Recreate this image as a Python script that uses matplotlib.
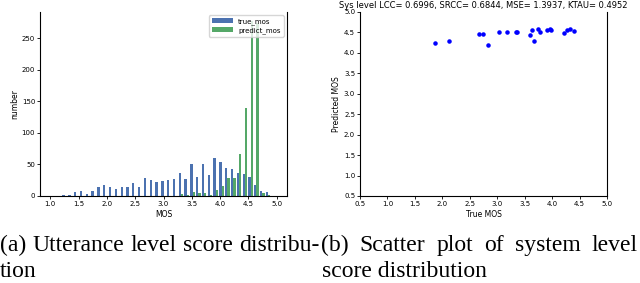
import numpy as np
import matplotlib
matplotlib.use("Agg")
import matplotlib.pyplot as plt

# histogram: 39 equal bins between 1.0 and 5.0, counts per bin
bin_lo, bin_hi, n_bins = 1.0, 5.0, 39
true_counts = [0, 0, 1, 1, 6, 8, 3, 8, 15, 18, 14, 11, 14, 14, 21, 15, 28, 25, 23, 24,
               25, 27, 36, 27, 50, 30, 50, 33, 60, 54, 45, 43, 36, 35, 30, 18, 8, 6, 0]
pred_counts = [0, 0, 0, 0, 0, 0, 0, 0, 0, 0, 0, 0, 0, 0, 0, 0, 0, 0, 0, 0,
               0, 0, 3, 1, 6, 4, 4, 1, 9, 16, 29, 28, 67, 140, 278, 275, 5, 1, 0]

# system level scatter
sys_true = [1.87, 2.13, 2.66, 2.74, 2.83, 3.03, 3.18, 3.34, 3.36, 3.60, 3.64,
            3.67, 3.75, 3.78, 3.90, 3.97, 3.98, 4.21, 4.27, 4.33, 4.39]
sys_pred = [4.23, 4.29, 4.455, 4.47, 4.20, 4.50, 4.50, 4.52, 4.50, 4.44, 4.56,
            4.30, 4.585, 4.50, 4.55, 4.585, 4.57, 4.48, 4.57, 4.585, 4.53]
sys_title = "Sys level LCC= 0.6996, SRCC= 0.6844, MSE= 1.3937, KTAU= 0.4952"

cap_a = ["(a) Utterance level score distribu-", "tion"]
cap_b = ["(b) Scatter plot of system level", "score distribution"]

fig = plt.figure(figsize=(6.4, 2.83), dpi=100)
fs = 5

edges = np.linspace(bin_lo, bin_hi, n_bins + 1)
centers = (edges[:-1] + edges[1:]) / 2

ax1 = fig.add_axes([40 / 640, 87 / 283, 247 / 640, 184 / 283])
ax1.hist([centers, centers], bins=edges, weights=[true_counts, pred_counts],
         color=["#4c72b0", "#55a868"], label=["true_mos", "predict_mos"])
ax1.set_xlim(0.82, 5.18)
ax1.set_ylim(0, 292)
ax1.set_xticks(np.arange(1.0, 5.01, 0.5))
ax1.set_yticks(np.arange(0, 251, 50))
ax1.set_xlabel("MOS", fontsize=fs + 0.5, labelpad=2)
ax1.set_ylabel("number", fontsize=fs + 0.5, labelpad=2)
ax1.legend(loc="upper right", fontsize=fs, handlelength=3, borderpad=0.4,
           labelspacing=0.3, framealpha=0.8)

ax2 = fig.add_axes([360 / 640, 87 / 283, 247 / 640, 184 / 283])
ax2.scatter(sys_true, sys_pred, s=5, color="b", zorder=3)
ax2.set_xlim(0.5, 5.0)
ax2.set_ylim(0.5, 5.0)
ax2.set_xticks(np.arange(0.5, 5.01, 0.5))
ax2.set_yticks(np.arange(0.5, 5.01, 0.5))
ax2.set_xlabel("True MOS", fontsize=fs + 0.5, labelpad=2)
ax2.set_ylabel("Predicted MOS", fontsize=fs + 0.5, labelpad=2)
ax2.set_title(sys_title, fontsize=6, pad=3)

for ax in (ax1, ax2):
    ax.tick_params(labelsize=fs, length=2, width=0.6, pad=1.5)
    ax.spines["top"].set_visible(False)
    for s in ax.spines.values():
        s.set_linewidth(0.8)

# captions, first line justified like the paper layout
renderer = fig.canvas.get_renderer()
cap_font = dict(family="Liberation Serif", fontsize=17)


def justify(words, x0, x1, y):
    arts = [fig.text(0, y, w, transform=None, **cap_font) for w in words]
    widths = [a.get_window_extent(renderer).width for a in arts]
    gap = (x1 - x0 - sum(widths)) / max(len(words) - 1, 1)
    x = x0
    for a, w in zip(arts, widths):
        a.set_x(x)
        x += w + gap


justify(cap_a[0].split(" "), 0, 319, 283 - 251)
justify(cap_b[0].split(" "), 321, 638, 283 - 251)
fig.text(0, 283 - 277, cap_a[1], transform=None, **cap_font)
fig.text(322, 283 - 277, cap_b[1], transform=None, **cap_font)

fig.savefig("out.png", dpi=100)
